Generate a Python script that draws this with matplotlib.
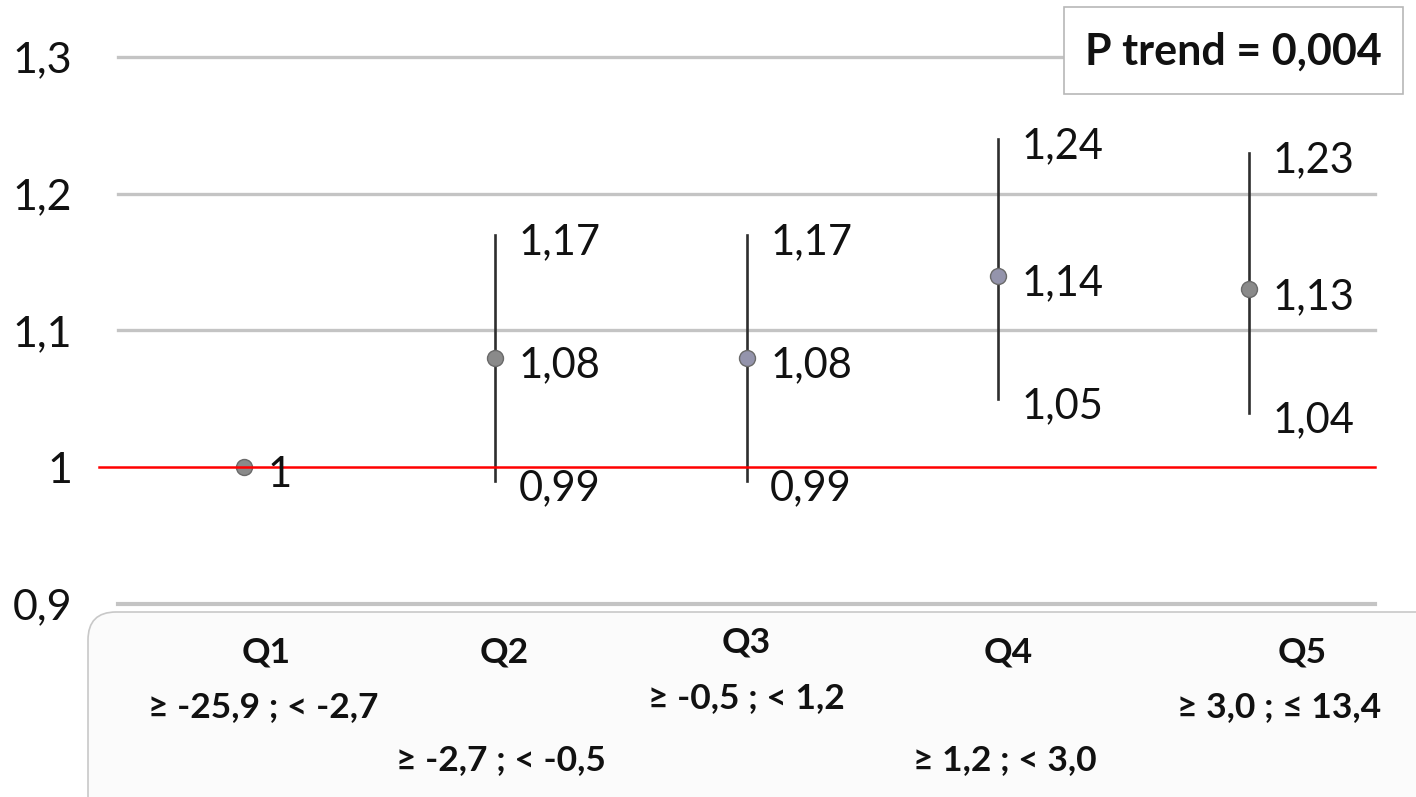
import matplotlib
matplotlib.use("Agg")
import matplotlib.pyplot as plt
from matplotlib.patches import FancyBboxPatch, Rectangle
from matplotlib.transforms import blended_transform_factory

plt.rcParams['font.family'] = ['Lato', 'DejaVu Sans']

# data
quintiles = ["Q1", "Q2", "Q3", "Q4", "Q5"]
ranges = ["≥ -25,9 ; < -2,7", "≥ -2,7 ; < -0,5", "≥ -0,5 ; < 1,2",
          "≥ 1,2 ; < 3,0", "≥ 3,0 ; ≤ 13,4"]
hr = [1.00, 1.08, 1.08, 1.14, 1.13]
ci_low = [None, 0.99, 0.99, 1.05, 1.04]
ci_high = [None, 1.17, 1.17, 1.24, 1.23]
yticks = [0.9, 1.0, 1.1, 1.2, 1.3]
ytick_labels = ["0,9", "1", "1,1", "1,2", "1,3"]
p_trend = "P trend = 0,004"

marker_colors = ["#8a8a8a", "#8a8a8a", "#9494ac", "#9494ac", "#8a8a8a"]

def fmt(v):
    if v == 1.0:
        return "1"
    return ("%.2f" % v).replace(".", ",")

W, H = 1416, 797
fig = plt.figure(figsize=(W / 100, H / 100), dpi=100)
fig.patch.set_facecolor("white")

# bottom rounded box (category area)
fig.patches.append(FancyBboxPatch((88, -40), W, 797 - 612 + 40,
                                  boxstyle="round,pad=0,rounding_size=28",
                                  transform=None, facecolor="#fbfbfb",
                                  edgecolor="#c8c8c8", lw=1.2, zorder=-1))

ax = fig.add_axes([118 / W, 193 / H, 1257 / W, 547 / H])
ax.set_facecolor("none")
ax.set_xlim(-0.5, 4.5)
ax.set_ylim(0.9, 1.3)
for s in ax.spines.values():
    s.set_visible(False)
ax.set_xticks([])
ax.set_yticks(yticks)
ax.set_yticklabels(ytick_labels, fontsize=31, color="#111111")
ax.tick_params(axis="y", length=0, pad=33)

for y in yticks:
    if y == 1.0:
        continue
    ax.axhline(y, color="#c4c4c4", lw=2.4 if y != 0.9 else 3.0, zorder=1, clip_on=False)

# red reference line
ax.axhline(1.0, xmin=-0.015, xmax=1.0, color="#ff0000", lw=1.8, zorder=5, clip_on=False)

x = list(range(len(quintiles)))
for i in x:
    if ci_low[i] is not None:
        ax.plot([i, i], [ci_low[i], ci_high[i]], color="#2e2e2e", lw=1.9, zorder=3)
    ax.plot(i, hr[i], "o", ms=11.5, mfc=marker_colors[i], mec="#6a6a6a",
            mew=1.0, zorder=4)
    ax.annotate(fmt(hr[i]), (i, hr[i]), xytext=(17, -14), textcoords="offset points",
                ha="left", va="baseline", fontsize=30, color="#111111", zorder=6)
    if ci_low[i] is not None:
        ax.annotate(fmt(ci_low[i]), (i, ci_low[i]), xytext=(17, -14),
                    textcoords="offset points", ha="left", va="baseline",
                    fontsize=30, color="#111111", zorder=6)
        ax.annotate(fmt(ci_high[i]), (i, ci_high[i]), xytext=(17, -14),
                    textcoords="offset points", ha="left", va="baseline",
                    fontsize=30, color="#111111", zorder=6)

# category labels under the plot
trans = blended_transform_factory(ax.transData, ax.transAxes)
q_dx = [0.09, 0.036, 0.0, 0.04, 0.21]
q_y = [-0.088, -0.088, -0.071, -0.088, -0.088]
r_dx = [0.077, 0.024, 0.0, 0.028, 0.12]
r_y = [-0.188, -0.285, -0.172, -0.285, -0.188]
for i in x:
    ax.text(i + q_dx[i], q_y[i], quintiles[i], transform=trans, ha="center",
            va="center", fontsize=25.5, fontweight="bold", color="#111111")
    ax.text(i + r_dx[i], r_y[i], ranges[i], transform=trans, ha="center",
            va="center", fontsize=25.5, fontweight="bold", color="#111111")

# P trend box
fig.patches.append(Rectangle((1064, 797 - 94), 339, 87, transform=None,
                             facecolor="white", edgecolor="#b8b8b8", lw=1.2, zorder=10))
fig.text(1233 / W, (797 - 52) / H, p_trend, ha="center", va="center",
         fontsize=31, fontweight="bold", color="#111111", zorder=11)

fig.savefig("out.png", dpi=100)
